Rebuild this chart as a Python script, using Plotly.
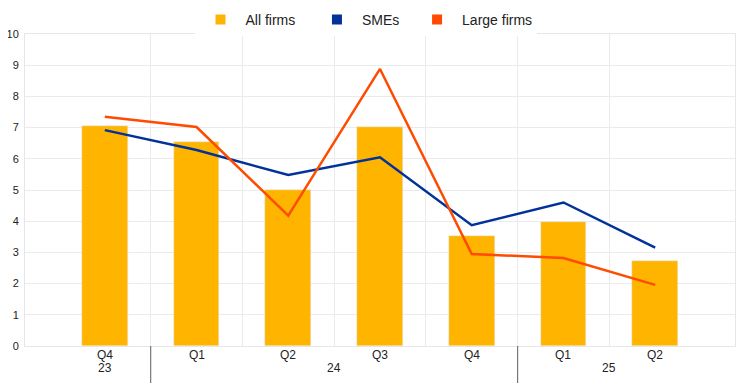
import plotly.graph_objects as go

quarters = ["Q4", "Q1", "Q2", "Q3", "Q4", "Q1", "Q2"]
years = ["23", "24", "25"]
year_pos = [0, 2.5, 5.5]
year_breaks = [0.5, 4.5]
all_firms = [7.05, 6.54, 5.0, 7.02, 3.53, 3.97, 2.72]
smes = [6.92, 6.28, 5.48, 6.05, 3.87, 4.6, 3.15]
large_firms = [7.35, 7.02, 4.18, 8.88, 2.95, 2.82, 1.96]

YEL, BLU, ORA = "#FFB400", "#003299", "#FF4B00"
FONT = "Liberation Sans, Arial, sans-serif"
x = list(range(len(quarters)))
W, H = 736, 375  # page body adds an 8px margin
PT, PB = 26, 338  # plot top / bottom in figure pixels

fig = go.Figure()
fig.add_trace(go.Bar(x=x, y=all_firms, width=0.5, marker_color=YEL, name="All firms", showlegend=False))
fig.add_trace(go.Scatter(x=x, y=smes, mode="lines", line=dict(color=BLU, width=2.5), showlegend=False))
fig.add_trace(go.Scatter(x=x, y=large_firms, mode="lines", line=dict(color=ORA, width=2.5), showlegend=False))
for nm, c, pad in [("All firms", YEL, 3), ("SMEs", BLU, 2), ("Large firms", ORA, 0)]:
    fig.add_trace(go.Scatter(x=[None], y=[None], mode="markers", name=nm + "\u00a0" * pad,
                             marker=dict(symbol="square", size=10, color=c)))

for i, q in enumerate(quarters):
    fig.add_annotation(x=i, y=0, xref="x", yref="paper", text=q, showarrow=False,
                       yanchor="middle", yshift=-9, font=dict(size=12, color="#222"))
for p, yv in zip(year_pos, years):
    fig.add_annotation(x=p, y=0, xref="x", yref="paper", text=yv, showarrow=False,
                       yanchor="middle", yshift=-22, font=dict(size=12, color="#222"))
for b in year_breaks:
    fig.add_shape(type="line", x0=b, x1=b, xref="x", y0=0, y1=-(H - PB) / (PB - PT), yref="paper",
                  line=dict(color="#777", width=1.2))

fig.update_layout(
    width=W, height=H,
    margin=dict(l=17, r=W - 727, t=PT, b=H - PB, autoexpand=False),
    paper_bgcolor="white", plot_bgcolor="white",
    font=dict(family=FONT, size=11, color="#222"),
    legend=dict(orientation="h", x=0.5 - 14 / W, xanchor="center", yref="container", y=1 - 12 / H,
                yanchor="middle", font=dict(size=14), itemwidth=40, tracegroupgap=0),
    xaxis=dict(range=[-0.87, 6.87], tickvals=[0.5, 1.5, 2.5, 3.5, 4.5, 5.5],
               ticktext=[""] * 6, showgrid=True, gridcolor="#EBEBEB", gridwidth=1,
               zeroline=False, showline=True, linecolor="#E6E6E6", mirror=True, ticks="",
               automargin=False),
    yaxis=dict(range=[0, 10], dtick=1, showgrid=True, gridcolor="#EBEBEB",
               zeroline=False, showline=True, linecolor="#E6E6E6", mirror=True,
               ticks="", ticklabelstandoff=3, tickfont=dict(size=11), automargin=False),
    bargap=0,
)
fig.write_html("out.html")
